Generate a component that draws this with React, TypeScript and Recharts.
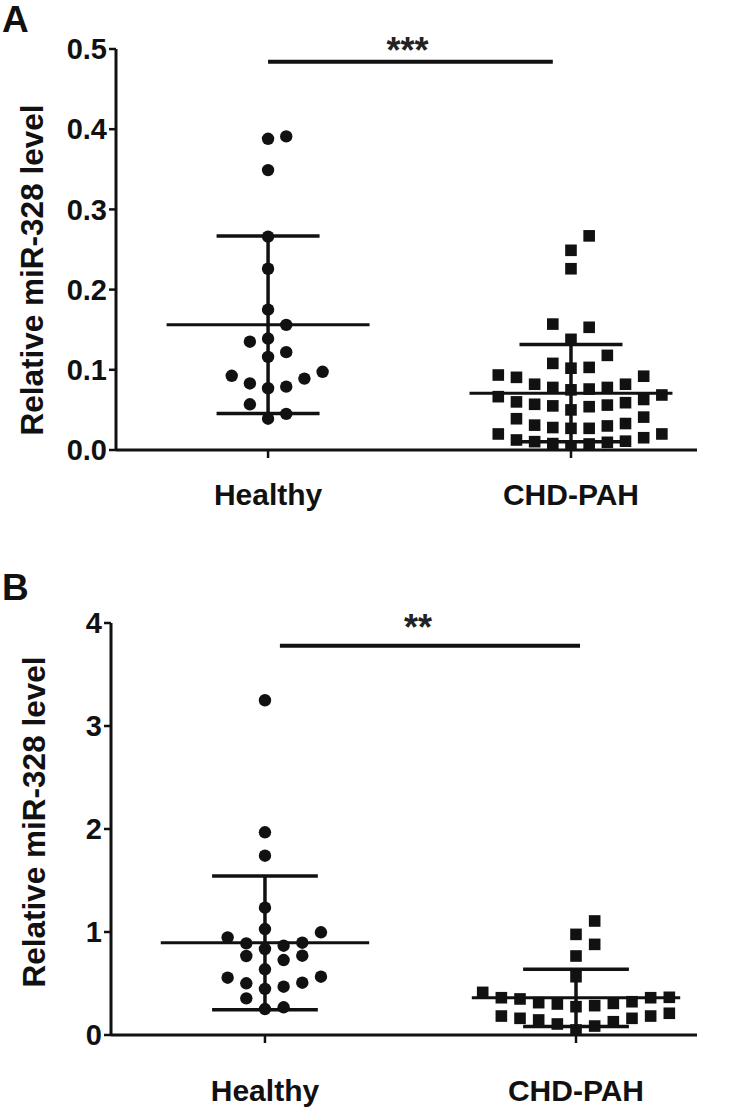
import React from 'react';
import { ScatterChart, Scatter, XAxis, YAxis, ReferenceLine } from 'recharts';

// groups on the x axis
const groups = ['Healthy', 'CHD-PAH'];

// panel A values (relative miR-328 level)
const healthyA = [
  0.391, 0.388, 0.349, 0.266, 0.226, 0.175, 0.156, 0.139, 0.135, 0.122,
  0.116, 0.0975, 0.0925, 0.089, 0.083, 0.079, 0.077, 0.057, 0.045, 0.039,
];
const pahA = [
  0.267, 0.249, 0.226, 0.157, 0.153, 0.138, 0.118, 0.108, 0.103, 0.102,
  0.0935, 0.092, 0.0906, 0.082, 0.082, 0.078, 0.078, 0.076, 0.075, 0.0686,
  0.0665, 0.063, 0.06, 0.059, 0.057, 0.056, 0.055, 0.054, 0.05, 0.041,
  0.039, 0.033, 0.031, 0.03, 0.028, 0.027, 0.027, 0.02, 0.02, 0.0153,
  0.0125, 0.011, 0.0104, 0.0096, 0.008, 0.0075, 0.004,
];

// panel B values
const healthyB = [
  3.25, 1.968, 1.741, 1.236, 1.029, 0.997, 0.948, 0.896, 0.89, 0.867,
  0.835, 0.77, 0.767, 0.728, 0.638, 0.566, 0.556, 0.508, 0.502, 0.469,
  0.447, 0.356, 0.269, 0.252,
];
const pahB = [
  1.107, 0.977, 0.88, 0.767, 0.566, 0.414, 0.366, 0.362, 0.362, 0.35,
  0.323, 0.314, 0.307, 0.301, 0.285, 0.275, 0.211, 0.184, 0.184, 0.162,
  0.162, 0.146, 0.129, 0.107, 0.087, 0.049,
];

const ticksA = [0, 0.1, 0.2, 0.3, 0.4, 0.5];
const ticksB = [0, 1, 2, 3, 4];

const FONT = "'Liberation Sans', Arial, sans-serif";
const SLOT = 0.06; // horizontal step between dots, in group units

const stats = (v: number[]) => {
  const mean = v.reduce((s, x) => s + x, 0) / v.length;
  const sd = Math.sqrt(v.reduce((s, x) => s + (x - mean) ** 2, 0) / (v.length - 1));
  return { mean, sd };
};

// prism-like scatter: rows of close values, spread out from the centre
const swarm = (values: number[], group: number, pxPerUnit: number) => {
  const rowH = 17.5 / pxPerUnit;
  const sorted = [...values].sort((a, b) => a - b);
  const out: { x: number; y: number }[] = [];
  let i = 0;
  while (i < sorted.length) {
    const start = sorted[i];
    let k = 0;
    while (i < sorted.length && sorted[i] - start < rowH) {
      const slot = k === 0 ? 0 : k % 2 === 1 ? (k + 1) / 2 : -k / 2;
      out.push({ x: group + slot * SLOT, y: sorted[i] });
      k++;
      i++;
    }
  }
  return out;
};

const dot = (p: any) => <circle cx={p.cx} cy={p.cy} r={6.2} fill="#111" />;
const square = (p: any) => (
  <rect x={p.cx - 5.8} y={p.cy - 5.8} width={11.6} height={11.6} fill="#111" />
);

interface PanelProps {
  height: number;
  top: number;
  bottom: number;
  yWidth: number;
  yMax: number;
  yTicks: number[];
  xDomain: [number, number];
  tickFmt: (v: number) => string;
  healthy: number[];
  pah: number[];
  labelX: number;
  labelY: number;
  xTickMargin: number;
  sig: { x1: number; x2: number; y: number; text: string; dx: number; dy: number };
}

const Panel: React.FC<PanelProps> = (p) => {
  const plotH = p.height - p.top - p.bottom - 60;
  const pxPerUnit = plotH / p.yMax;
  const sets = [p.healthy, p.pah];
  const tickStyle = { fontFamily: FONT, fontWeight: 700, fontSize: 29, fill: '#111' };

  const bars = sets.flatMap((v, g) => {
    const { mean, sd } = stats(v);
    const lo = mean - sd;
    const hi = mean + sd;
    return [
      <ReferenceLine key={`m${g}`} segment={[{ x: g - 0.335, y: mean }, { x: g + 0.335, y: mean }]} stroke="#111" strokeWidth={3} />,
      <ReferenceLine key={`h${g}`} segment={[{ x: g - 0.17, y: hi }, { x: g + 0.17, y: hi }]} stroke="#111" strokeWidth={3.5} />,
      <ReferenceLine key={`l${g}`} segment={[{ x: g - 0.17, y: lo }, { x: g + 0.17, y: lo }]} stroke="#111" strokeWidth={3.5} />,
      <ReferenceLine key={`v${g}`} segment={[{ x: g, y: lo }, { x: g, y: hi }]} stroke="#111" strokeWidth={3.5} />,
    ];
  });

  return (
    <ScatterChart
      width={737}
      height={p.height}
      margin={{ top: p.top, right: 40, bottom: p.bottom, left: 0 }}
    >
      <XAxis
        type="number"
        dataKey="x"
        domain={p.xDomain}
        ticks={[0, 1]}
        interval={0}
        allowDataOverflow
        tickFormatter={(v: number) => groups[v]}
        height={60}
        tickSize={8}
        tickMargin={p.xTickMargin}
        axisLine={{ stroke: '#111', strokeWidth: 3 }}
        tickLine={{ stroke: '#111', strokeWidth: 2.5 }}
        tick={{ ...tickStyle, fontSize: 30 }}
      />
      <YAxis
        type="number"
        dataKey="y"
        domain={[0, p.yMax]}
        ticks={p.yTicks}
        interval={0}
        allowDataOverflow
        tickFormatter={p.tickFmt}
        width={p.yWidth}
        tickSize={7}
        tickMargin={2}
        axisLine={{ stroke: '#111', strokeWidth: 3 }}
        tickLine={{ stroke: '#111', strokeWidth: 2.5 }}
        tick={tickStyle}
        label={() => (
          <text
            x={p.labelX}
            y={p.labelY}
            transform={`rotate(-90, ${p.labelX}, ${p.labelY})`}
            textAnchor="middle"
            fontFamily={FONT}
            fontWeight={700}
            fontSize={31.5}
            fill="#111"
          >
            Relative miR-328 level
          </text>
        )}
      />
      {bars}
      <ReferenceLine
        segment={[{ x: p.sig.x1, y: p.sig.y }, { x: p.sig.x2, y: p.sig.y }]}
        stroke="#111"
        strokeWidth={4}
        label={(lp: any) => {
          const vb = lp.viewBox || {};
          return (
            <text
              x={vb.x + vb.width / 2 + p.sig.dx}
              y={vb.y + p.sig.dy}
              textAnchor="middle"
              fontFamily={FONT}
              fontWeight={700}
              fontSize={36}
              fill="#222"
            >
              {p.sig.text}
            </text>
          );
        }}
      />
      <Scatter
        data={swarm(p.healthy, 0, pxPerUnit)}
        shape={dot}
        isAnimationActive={false}
      />
      <Scatter
        data={swarm(p.pah, 1, pxPerUnit)}
        shape={square}
        isAnimationActive={false}
      />
    </ScatterChart>
  );
};

const letterStyle: React.CSSProperties = {
  position: 'absolute',
  left: 2,
  fontFamily: FONT,
  fontWeight: 700,
  fontSize: 37,
  lineHeight: '37px',
  color: '#111',
};

export default function App() {
  return (
    <div style={{ position: 'absolute', left: 0, top: 0, width: 737, height: 1110, background: '#fff', overflow: 'hidden' }}>
      <div style={{ ...letterStyle, top: 1 }}>A</div>
      <div style={{ ...letterStyle, top: 569 }}>B</div>
      <div style={{ position: 'absolute', left: 0, top: 0 }}>
        <Panel
          height={545}
          top={49}
          bottom={35}
          yWidth={116}
          yMax={0.5}
          yTicks={ticksA}
          xDomain={[-0.502, 1.416]}
          tickFmt={(v) => v.toFixed(1)}
          healthy={healthyA}
          pah={pahA}
          labelX={43}
          labelY={270}
          xTickMargin={26}
          sig={{ x1: 0, x2: 0.94, y: 0.484, text: '***', dx: -3, dy: 1 }}
        />
      </div>
      <div style={{ position: 'absolute', left: 0, top: 545 }}>
        <Panel
          height={565}
          top={78}
          bottom={15}
          yWidth={111}
          yMax={4}
          yTicks={ticksB}
          xDomain={[-0.495, 1.389]}
          tickFmt={(v) => String(v)}
          healthy={healthyB}
          pah={pahB}
          labelX={45}
          labelY={277}
          xTickMargin={37}
          sig={{ x1: 0.048, x2: 1.013, y: 3.78, text: '**', dx: -12, dy: -6 }}
        />
      </div>
    </div>
  );
}
